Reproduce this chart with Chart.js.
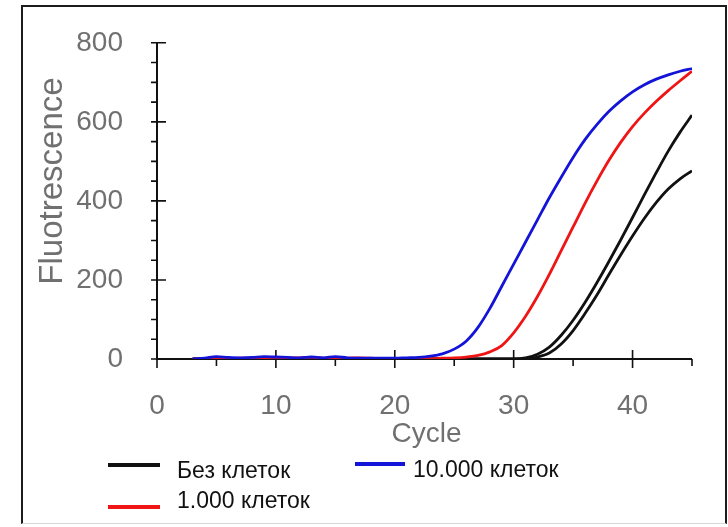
<!DOCTYPE html>
<html lang="ru">
<head>
  <meta charset="utf-8">
  <title>Fluorescence vs Cycle</title>
  <script src="https://cdn.jsdelivr.net/npm/chart.js"></script>
  <style>
    body {
      margin: 0;
      background: #fff;
    }
    .wrap {
      position: relative;
      width: 728px;
      height: 527px;
    }
    /* thin frame around the figure */
    .frame {
      position: absolute;
      left: 21px;
      top: 5px;
      width: 702px;
      height: 516px;
      border: 2px solid #1c1c1c;
      border-bottom: 1px solid #d8d8d8;
      pointer-events: none;
    }
  </style>
</head>
<body>
  <div class="wrap">
    <canvas id="pcr" width="728" height="527"></canvas>
    <div class="frame"></div>
  </div>

  <script>
    // amplification cycles
    const cycles = [3, 4, 5, 6, 7, 8, 9, 10, 11, 12, 13, 14, 15, 16, 17, 18, 19, 20, 21, 22, 23, 24,
      25, 26, 27, 28, 29, 30, 31, 32, 33, 34, 35, 36, 37, 38, 39, 40, 41, 42, 43, 44, 45];

    // fluorescence readings per cycle
    const cells10000 = [0, 2, 6, 4, 3, 4, 6, 5, 4, 3, 5, 3, 6, 3, 2, 2, 2, 2, 3, 4, 7, 13,
      25, 45, 80, 128, 184, 240, 296, 352, 408, 460, 510, 555, 593, 626, 653, 676, 694, 708, 719, 728, 735];
    const cells1000 = [0, 1, 2, 1, 2, 3, 2, 3, 2, 3, 4, 2, 3, 2, 3, 2, 1, 1, 1, 1, 1, 2,
      3, 5, 9, 18, 34, 66, 108, 158, 214, 274, 334, 394, 450, 502, 548, 588, 622, 652, 679, 704, 728];
    const noCellsA = [0, 1, 1, 0, 1, 1, 0, 1, 1, 0, 1, 0, 1, 1, 0, 0, 1, 0, 0, 0, 0, 0,
      0, 0, 0, 0, 0, 0, 3, 12, 30, 60, 98, 143, 193, 246, 301, 358, 416, 472, 526, 574, 617];
    const noCellsB = [0, 0, 1, 0, 0, 1, 0, 0, 1, 0, 0, 0, 1, 0, 0, 0, 0, 0, 0, 0, 0, 0,
      0, 0, 0, 0, 0, 0, 1, 5, 15, 38, 72, 115, 162, 213, 263, 311, 356, 396, 430, 456, 476];

    const xTicks = [0, 10, 20, 30, 40];
    const yTicks = [0, 200, 400, 600, 800];

    const FONT = "'Liberation Sans', Arial, Helvetica, sans-serif";
    const GREY = '#707070';

    function points(values) {
      return cycles.map((c, i) => ({ x: c, y: values[i] }));
    }

    function series(label, values, color, order, inLegend) {
      return {
        label: label,
        data: points(values),
        borderColor: color,
        backgroundColor: color,
        borderWidth: 2.8,
        pointRadius: 0,
        cubicInterpolationMode: 'monotone',
        order: order,
        inLegend: inLegend
      };
    }

    // axes, minor ticks, titles and the two-column legend
    const decor = {
      id: 'decor',
      beforeDatasetsDraw(chart) {
        const { ctx, scales: { x, y } } = chart;
        const left = x.getPixelForValue(0);
        const right = x.getPixelForValue(45);
        const top = y.getPixelForValue(800);
        const base = y.getPixelForValue(0);
        ctx.save();
        ctx.strokeStyle = '#111';
        ctx.lineWidth = 2;
        ctx.beginPath();
        ctx.moveTo(left, top);
        ctx.lineTo(left, base);
        ctx.lineTo(right, base);
        ctx.stroke();

        ctx.lineWidth = 1.6;
        ctx.beginPath();
        for (let v = 0; v <= 45; v += 5) {
          const px = x.getPixelForValue(v);
          if (v % 10 === 0) {
            ctx.moveTo(px, base - 9);
            ctx.lineTo(px, base + 9);
          } else {
            ctx.moveTo(px, base);
            ctx.lineTo(px, base + 7);
          }
        }
        for (let v = 0; v <= 800; v += 50) {
          const py = y.getPixelForValue(v);
          if (v % 200 === 0) {
            ctx.moveTo(left - 6, py);
            ctx.lineTo(left + 9, py);
          } else {
            ctx.moveTo(left - 6, py);
            ctx.lineTo(left, py);
          }
        }
        ctx.stroke();
        ctx.restore();
      },
      afterDraw(chart) {
        const { ctx, scales: { x } } = chart;
        ctx.save();
        ctx.fillStyle = GREY;
        ctx.font = '28px ' + FONT;
        ctx.textAlign = 'center';
        ctx.textBaseline = 'alphabetic';
        ctx.fillText('Cycle', (x.left + x.right) / 2 + 2, 442);

        ctx.translate(62, 181);
        ctx.rotate(-Math.PI / 2);
        ctx.font = '33px ' + FONT;
        ctx.fillText('Fluotrescence', 0, 0);
        ctx.restore();

        // legend: [lineStart, lineEnd, lineY, textX, textBaseline]
        const slots = [
          [108, 160, 465, 177, 478],
          [108, 160, 507, 177, 508],
          [355, 405, 464, 413, 477]
        ];
        const items = chart.data.datasets.filter(d => d.inLegend);
        ctx.save();
        ctx.font = '23px ' + FONT;
        ctx.textAlign = 'left';
        ctx.fillStyle = '#111';
        items.forEach((d, i) => {
          const s = slots[i];
          ctx.strokeStyle = d.borderColor;
          ctx.lineWidth = 4;
          ctx.beginPath();
          ctx.moveTo(s[0], s[2]);
          ctx.lineTo(s[1], s[2]);
          ctx.stroke();
          ctx.fillText(d.label, s[3], s[4]);
        });
        ctx.restore();
      }
    };

    new Chart(document.getElementById('pcr'), {
      type: 'line',
      data: {
        datasets: [
          series('Без клеток', noCellsA, '#111111', 3, true),
          series('1.000 клеток', cells1000, '#f01515', 1, true),
          series('10.000 клеток', cells10000, '#1414d8', 0, true),
          series('Без клеток', noCellsB, '#111111', 2, false)
        ]
      },
      options: {
        responsive: false,
        animation: false,
        devicePixelRatio: 1,
        layout: { padding: { left: 0, right: 36, top: 27, bottom: 0 } },
        plugins: {
          legend: { display: false },
          tooltip: { enabled: false }
        },
        scales: {
          x: {
            type: 'linear',
            min: 0,
            max: 45,
            grid: { display: false },
            border: { display: false },
            afterFit: s => { s.height = 168; },
            afterBuildTicks: s => { s.ticks = xTicks.map(v => ({ value: v })); },
            ticks: {
              color: GREY,
              padding: 22,
              maxRotation: 0,
              font: { family: FONT, size: 28 }
            }
          },
          y: {
            min: 0,
            max: 800,
            grid: { display: false },
            border: { display: false },
            afterFit: s => { s.width = 157; },
            afterBuildTicks: s => { s.ticks = yTicks.map(v => ({ value: v })); },
            ticks: {
              color: GREY,
              padding: 26,
              font: { family: FONT, size: 28 }
            }
          }
        }
      },
      plugins: [decor]
    });
  </script>
</body>
</html>
